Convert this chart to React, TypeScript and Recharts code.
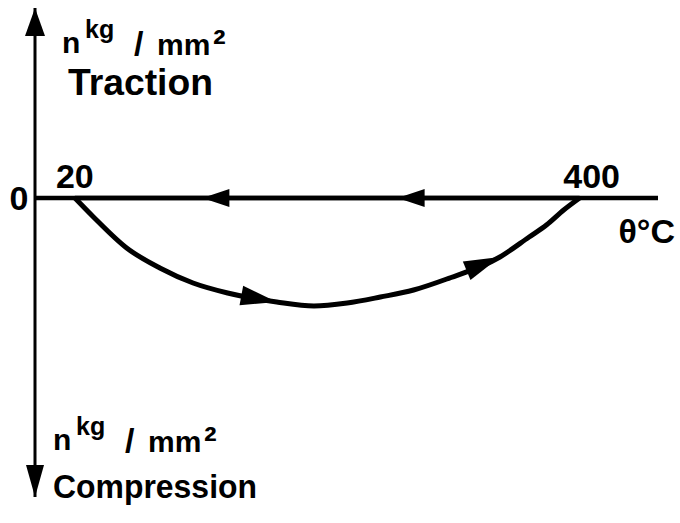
import {
  ComposedChart,
  Line,
  XAxis,
  YAxis,
  ReferenceLine,
  ReferenceDot,
} from "recharts";

// heating branch: 20 °C -> 400 °C, stress goes into compression
const heatingTemp = [20, 34, 59, 84, 109, 135, 172, 200, 225, 250, 275, 300, 340, 362, 375, 388, 400];
const heatingStress = [0, -1.9, -5.0, -7.0, -8.5, -9.5, -10.4, -10.8, -10.5, -9.9, -9.2, -8.1, -5.9, -3.9, -2.7, -1.2, 0];

// cooling branch: back along the zero line
const coolingTemp = [400, 263, 116, 20];
const coolingStress = [0, 0, 0, 0];

// where the direction arrows sit on each branch
const heatingArrowTemp = [172, 340];
const coolingArrowTemp = [263, 116];

const tempTicks = [20, 400];
const originLabel = "0";
const tempUnit = "θ°C";
const tractionLabel = "Traction";
const compressionLabel = "Compression";

const T_MIN = -10;
const T_MAX = 459;
const S_MIN = -29.9;
const S_MAX = 19;

const heating = heatingTemp.map((t, i) => ({ t, s: heatingStress[i] }));
const cooling = coolingTemp.map((t, i) => ({ t, s: coolingStress[i] }));

const FONT = "'Liberation Sans', Arial, sans-serif";

// dot renderer that draws an arrowhead (tip on the point) along the line direction
function arrowDot(arrowTemps: number[], len: number, half: number) {
  const seen: { x: number; y: number }[] = [];
  return (props: any) => {
    const { cx, cy, index, payload } = props;
    seen[index] = { x: cx, y: cy };
    const prev = seen[index - 1];
    if (!arrowTemps.includes(payload.t) || !prev) return <g key={`d-${index}`} />;
    const dx = cx - prev.x;
    const dy = cy - prev.y;
    const n = Math.hypot(dx, dy) || 1;
    const ux = dx / n;
    const uy = dy / n;
    const bx = cx - ux * len;
    const by = cy - uy * len;
    const pts = [
      [cx, cy],
      [bx - uy * half, by + ux * half],
      [bx + uy * half, by - ux * half],
    ]
      .map((p) => p.join(","))
      .join(" ");
    return <polygon key={`d-${index}`} points={pts} fill="#000" />;
  };
}

const heatingDot = arrowDot(heatingArrowTemp, 36, 10);
const coolingDot = arrowDot(coolingArrowTemp, 27, 9);

function StressUnit({ x, y }: { x: number; y: number }) {
  // "n kg/mm²", x/y = baseline of the "n"
  return (
    <g fontFamily={FONT} fontWeight="bold" fill="#000">
      <text x={x} y={y} fontSize={30}>n</text>
      <text x={x + 23} y={y - 15} fontSize={25}>kg</text>
      <text x={x + 72} y={y + 2} fontSize={34}>/</text>
      <text x={x + 95} y={y + 2} fontSize={30}>mm</text>
      <text x={x + 151} y={y + 4} fontSize={38}>²</text>
    </g>
  );
}

function TopArrow(props: any) {
  const { cx, cy } = props;
  return (
    <g>
      <polygon points={`${cx},${cy} ${cx - 10},${cy + 28} ${cx + 10},${cy + 28}`} fill="#000" />
      <StressUnit x={cx + 27} y={cy + 45} />
      <text
        x={cx + 33}
        y={cy + 87}
        fontSize={36}
        fontFamily={FONT}
        fontWeight="bold"
        textLength={145}
        lengthAdjust="spacingAndGlyphs"
      >
        {tractionLabel}
      </text>
    </g>
  );
}

function BottomArrow(props: any) {
  const { cx, cy } = props;
  return (
    <g>
      <polygon points={`${cx},${cy} ${cx - 9},${cy - 32} ${cx + 9},${cy - 32}`} fill="#000" />
      <StressUnit x={cx + 18} y={cy - 47} />
      <text
        x={cx + 18}
        y={cy + 1}
        fontSize={34}
        fontFamily={FONT}
        fontWeight="bold"
        textLength={204}
        lengthAdjust="spacingAndGlyphs"
      >
        {compressionLabel}
      </text>
    </g>
  );
}

const tickText = (label: string, dx: number, dy: number, anchor: string) => (props: any) => (
  <text
    x={props.cx + dx}
    y={props.cy + dy}
    textAnchor={anchor}
    fontSize={34}
    fontFamily={FONT}
    fontWeight="bold"
    fill="#000"
  >
    {label}
  </text>
);

export default function App() {
  return (
    <div style={{ position: "absolute", left: 0, top: 0, background: "#fff" }}>
      <ComposedChart
        width={680}
        height={523}
        margin={{ top: 8, right: 22, bottom: 26, left: 35 }}
      >
        <XAxis type="number" dataKey="t" domain={[T_MIN, T_MAX]} allowDataOverflow hide />
        <YAxis type="number" dataKey="s" domain={[S_MIN, S_MAX]} allowDataOverflow hide />

        <ReferenceLine y={0} stroke="#000" strokeWidth={4.5} />
        <ReferenceLine x={T_MIN} stroke="#000" strokeWidth={3} />

        <Line
          data={heating}
          dataKey="s"
          type="monotone"
          stroke="#000"
          strokeWidth={5}
          dot={heatingDot}
          activeDot={false}
          isAnimationActive={false}
        />
        <Line
          data={cooling}
          dataKey="s"
          type="linear"
          stroke="#000"
          strokeWidth={4.5}
          dot={coolingDot}
          activeDot={false}
          isAnimationActive={false}
        />

        <ReferenceDot x={T_MIN} y={S_MAX} r={1} shape={TopArrow} />
        <ReferenceDot x={T_MIN} y={S_MIN} r={1} shape={BottomArrow} />

        <ReferenceDot x={T_MIN} y={0} r={1} shape={tickText(originLabel, -16, 12, "middle")} />
        <ReferenceDot x={tempTicks[0]} y={0} r={1} shape={tickText(String(tempTicks[0]), 0, -10, "middle")} />
        <ReferenceDot x={tempTicks[1]} y={0} r={1} shape={tickText(String(tempTicks[1]), 12, -10, "middle")} />
        <ReferenceDot x={T_MAX} y={0} r={1} shape={tickText(tempUnit, 17, 45, "end")} />
      </ComposedChart>
    </div>
  );
}
